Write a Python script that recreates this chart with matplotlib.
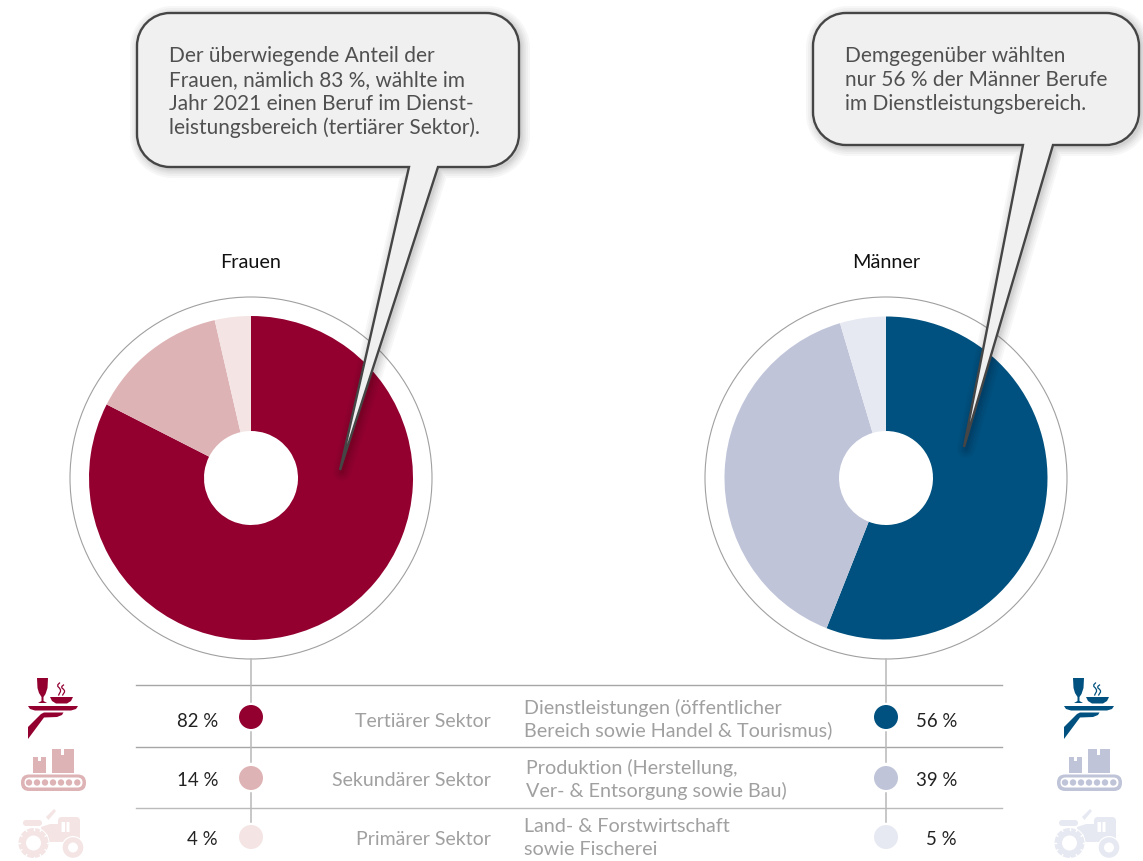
import numpy as np
import matplotlib
matplotlib.use("Agg")
import matplotlib.pyplot as plt
from matplotlib.path import Path
from matplotlib.patches import PathPatch, Circle, Polygon, FancyBboxPatch
from matplotlib.transforms import Affine2D

sector_labels = ["Tertiärer Sektor", "Sekundärer Sektor", "Primärer Sektor"]
sector_desc = [["Dienstleistungen (öffentlicher", "Bereich sowie Handel & Tourismus)"],
               ["Produktion (Herstellung,", "Ver- & Entsorgung sowie Bau)"],
               ["Land- & Forstwirtschaft", "sowie Fischerei"]]
frauen_values = [82, 14, 4]
maenner_values = [56, 39, 5]
frauen_shares = [82.5, 13.9, 3.6]
maenner_shares = [56.0, 39.4, 4.6]
frauen_colors = ["#930030", "#deb3b5", "#f4e4e4"]
maenner_colors = ["#00517f", "#bfc4d8", "#e6e9f2"]
frauen_note = ["Der überwiegende Anteil der", "Frauen, nämlich 83 %, wählte im",
               "Jahr 2021 einen Beruf im Dienst-", "leistungsbereich (tertiärer Sektor)."]
maenner_note = ["Demgegenüber wählten", "nur 56 % der Männer Berufe",
                "im Dienstleistungsbereich."]

W, H = 1143, 862
plt.rcParams["font.family"] = "Lato"
fig = plt.figure(figsize=(W / 100, H / 100), dpi=100)
ax = fig.add_axes([0, 0, 1, 1])


def Y(y):
    return H - y - 1


def P(pts):
    return [(x, Y(y)) for x, y in pts]


def donut(values, colors, cx, r):
    ax.add_patch(Circle((cx, Y(478)), 181, fc="white", ec="#a0a0a0", lw=0.8, zorder=1))
    ax.pie(values, colors=colors, center=(cx, Y(478)), radius=r, startangle=90,
           counterclock=False, frame=True,
           wedgeprops=dict(width=r - 47, linewidth=0, zorder=2))


donut(frauen_shares, frauen_colors, 251, 162)
donut(maenner_shares, maenner_colors, 886, 161.5)
ax.set_xlim(0, W)
ax.set_ylim(0, H)
ax.set_aspect("equal")
ax.axis("off")


def callout(x0, y0, x1, y1, tl, tr, tip, rad=33):
    k = 0.5523 * rad
    v = [(x0 + rad, y0), (x1 - rad, y0),
         (x1 - rad + k, y0), (x1, y0 + rad - k), (x1, y0 + rad),
         (x1, y1 - rad),
         (x1, y1 - rad + k), (x1 - rad + k, y1), (x1 - rad, y1),
         (tr, y1), tip, (tl, y1), (x0 + rad, y1),
         (x0 + rad - k, y1), (x0, y1 - rad + k), (x0, y1 - rad),
         (x0, y0 + rad),
         (x0, y0 + rad - k), (x0 + rad - k, y0), (x0 + rad, y0),
         (x0 + rad, y0)]
    c = [Path.MOVETO, Path.LINETO,
         Path.CURVE4, Path.CURVE4, Path.CURVE4,
         Path.LINETO,
         Path.CURVE4, Path.CURVE4, Path.CURVE4,
         Path.LINETO, Path.LINETO, Path.LINETO, Path.LINETO,
         Path.CURVE4, Path.CURVE4, Path.CURVE4,
         Path.LINETO,
         Path.CURVE4, Path.CURVE4, Path.CURVE4,
         Path.CLOSEPOLY]
    path = Path(P(v), c)
    shadow = path.transformed(Affine2D().translate(2, -2))
    for lw in (18, 14, 10, 7, 4, 2):
        ax.add_patch(PathPatch(shadow, fc="none", ec="black", lw=lw * 0.72, alpha=0.03,
                               joinstyle="round", zorder=3))
    ax.add_patch(PathPatch(path, fc="#f0f0f0", ec="#454545", lw=1.7,
                           joinstyle="miter", zorder=4))


callout(137, 13, 519, 167, 409, 438, (340, 470))
callout(813, 13, 1139, 145, 1023, 1053, (964, 447))

for i, line in enumerate(frauen_note):
    ax.text(169, Y(55 + 24 * i), line, fontsize=15, color="#505050", va="center", zorder=5)
for i, line in enumerate(maenner_note):
    ax.text(845, Y(55 + 24 * i), line, fontsize=15, color="#505050", va="center", zorder=5)

ax.text(251, Y(261), "Frauen", fontsize=14.3, color="#111111", ha="center", va="center")
ax.text(886, Y(261), "Männer", fontsize=14.3, color="#111111", ha="center", va="center")

# table rules
for y, col in zip((685, 747, 808), ("#a6a6a6", "#a6a6a6", "#bbbbbb")):
    ax.plot([136, 1002], [Y(y), Y(y)], color=col, lw=1.0, zorder=1)
for cx in (251, 886):
    for a, b in ((659, 702), (732, 762), (793, 822)):
        ax.plot([cx, cx], [Y(a), Y(b)], color="#b8b8b8", lw=1.1, zorder=1)

row_y = [717, 778, 837]
label_y = [721, 780, 839]
desc_y = [(707, 729), (767, 790), (826, 849)]
desc_x = [524, 526, 524]
for i in range(3):
    ax.add_patch(Circle((251, Y(row_y[i])), 12, fc=frauen_colors[i], ec="none", zorder=2))
    ax.add_patch(Circle((886, Y(row_y[i])), 12, fc=maenner_colors[i], ec="none", zorder=2))
    ax.text(218, Y(label_y[i]), f"{frauen_values[i]} %", fontsize=13.4, color="#222222",
            ha="right", va="center")
    ax.text(957, Y(label_y[i]), f"{maenner_values[i]} %", fontsize=13.4, color="#222222",
            ha="right", va="center")
    ax.text(491, Y(label_y[i]), sector_labels[i], fontsize=14, color="#a0a0a0",
            ha="right", va="center")
    for yy, t in zip(desc_y[i], sector_desc[i]):
        ax.text(desc_x[i], Y(yy), t, fontsize=14.2, color="#a0a0a0", va="center")


def poly(pts, col, dx, z=2):
    ax.add_patch(Polygon(P([(x + dx, y) for x, y in pts]), closed=True, fc=col, ec="none", zorder=z))


def disc(x, y, r, col, dx, z=2):
    ax.add_patch(Circle((x + dx, Y(y)), r, fc=col, ec="none", zorder=z))


def rbox(x0, y0, x1, y1, r, col, dx, z=2):
    ax.add_patch(FancyBboxPatch((x0 + dx + r, Y(y1) + r), x1 - x0 - 2 * r, y1 - y0 - 2 * r,
                                boxstyle=f"round,pad={r},rounding_size={r}",
                                fc=col, ec="none", zorder=z))


def tray_icon(col, dx):
    poly([(37, 678), (48, 678), (47.5, 688), (45.5, 694), (43.5, 697), (43.5, 701), (47, 703),
          (38, 703), (41.5, 701), (41.5, 697), (39, 693), (37.5, 688)], col, dx)
    poly([(50, 697), (73, 697), (71, 701), (67, 703.5), (56, 703.5), (52, 701)], col, dx)
    for sx, top in ((59, 683), (63, 685)):
        ys = np.linspace(top, 695, 8)
        xs = sx + np.array([0.5, -1.2, -1.2, 0.5, 1.5, 1.5, 0.5, -0.3])
        ax.plot(xs + dx, [Y(v) for v in ys], color=col, lw=0.9, zorder=2)
    poly([(28, 706), (78, 706), (76, 709), (71, 710.5), (35, 710.5), (30, 709)], col, dx)
    poly([(63.5, 712.5), (62, 715), (57, 717), (44, 717.5), (28, 739), (28, 727), (41, 714), (44, 712.5)], col, dx)


def belt_icon(col, dx):
    poly([(33, 757), (37.5, 757), (37.5, 761), (40.5, 761), (40.5, 757), (46, 757), (46, 773), (33, 773)], col, dx)
    poly([(52, 749), (61, 749), (61, 755), (64, 755), (64, 749), (74, 749), (74, 773), (52, 773)], col, dx)
    rbox(21, 774.5, 86, 791, 8, col, dx)
    rbox(24.5, 777.5, 82.5, 787.5, 5, "white", dx, z=3)
    for x in (29, 37, 45, 53, 61, 69, 77.3):
        disc(x, 782.5, 3.2, col, dx, z=4)


def tractor_icon(col, dx):
    rbox(58, 817, 80, 842, 4, col, dx)
    poly([(41, 827), (50, 824), (60, 824), (60, 842), (41, 842)], col, dx)
    rbox(23, 820, 42, 826, 3, col, dx)
    poly([(46, 817), (54, 809), (56, 811), (48.5, 820)], col, dx)
    rbox(61.5, 822, 65, 832, 0.5, "white", dx, z=3)
    rbox(66.5, 822, 69.5, 832, 0.5, "white", dx, z=3)
    disc(33.5, 843, 16, "white", dx, z=3)
    disc(33.5, 843, 15, col, dx, z=3)
    disc(33.5, 843, 7.5, "white", dx, z=4)
    for a in np.arange(0, 360, 30):
        t = np.radians(a)
        ax.plot([33.5 + dx + 13.5 * np.cos(t), 33.5 + dx + 15.5 * np.cos(t)],
                [Y(843) + 13.5 * np.sin(t), Y(843) + 15.5 * np.sin(t)],
                color="white", lw=1.0, zorder=4)
    disc(73, 847.5, 11.5, "white", dx, z=3)
    disc(73, 847.5, 10.3, col, dx, z=3)
    disc(73, 847.5, 5, "white", dx, z=4)


for dx, cols in ((0, frauen_colors), (1036, maenner_colors)):
    tray_icon(cols[0], dx)
    belt_icon(cols[1], dx)
    tractor_icon(cols[2], dx)

fig.savefig("out.png", dpi=100, facecolor="white")
